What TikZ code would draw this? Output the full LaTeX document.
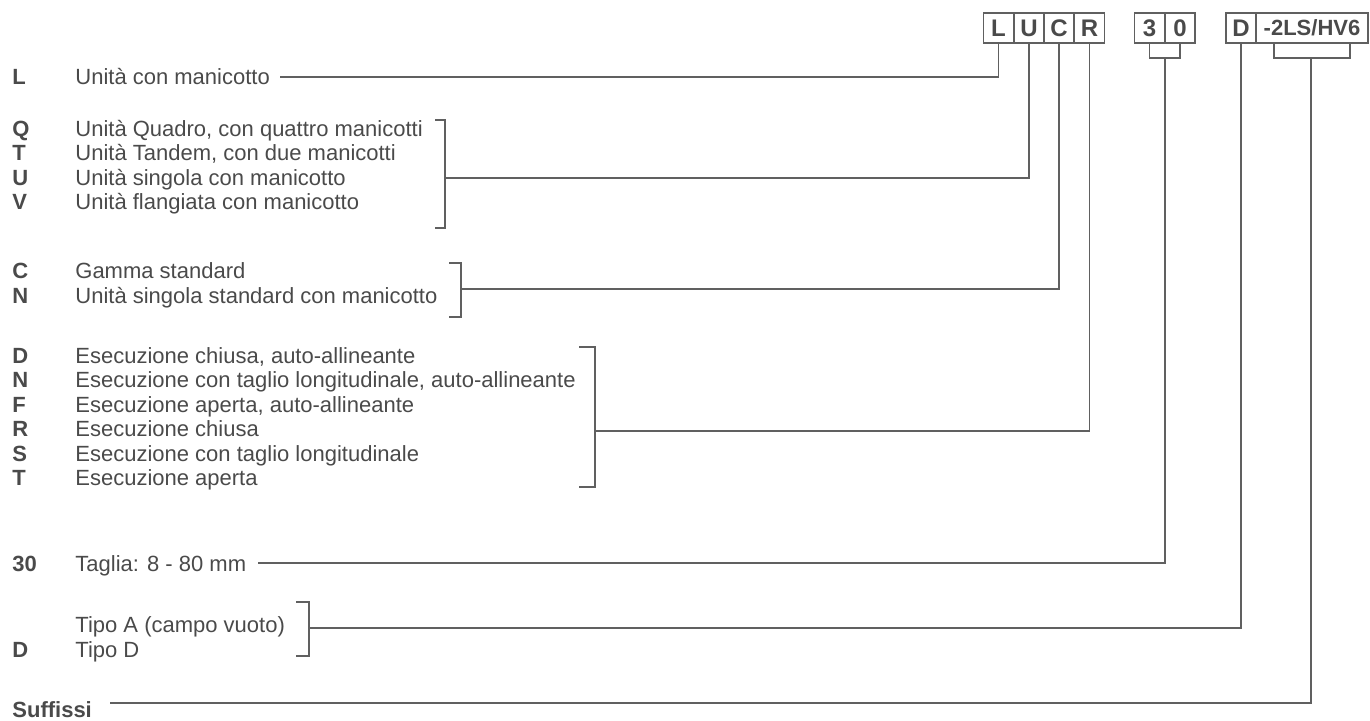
\documentclass[tikz,border=0pt]{standalone}
\usepackage{fontspec}
\setmainfont{Liberation Sans}
\definecolor{txt}{HTML}{4A4A4A}
\definecolor{ln}{HTML}{606060}
\newcommand{\descfont}{\fontsize{11}{13}\selectfont}
\newcommand{\boxfont}{\bfseries\fontsize{12}{14}\selectfont}
\newcommand{\sufboxfont}{\bfseries\fontsize{11}{13}\selectfont}
\begin{document}
\begin{tikzpicture}[x=0.5pt,y=-0.5pt,
  codebox/.style={draw=ln, line width=0.7pt, minimum width=15pt, minimum height=15pt, inner sep=0pt, font=\boxfont, text=txt},
  keyl/.style={anchor=base west, inner sep=0pt, font=\bfseries\descfont, text=txt},
  desc/.style={anchor=base west, inner sep=0pt, font=\descfont, text=txt},
  conn/.style={draw=ln, line width=0.65pt}]
\useasboundingbox (0,0) rectangle (1370,720);
% code boxes
\node[codebox] (bL) at (998.5,28) {L};
\node[codebox] (bU) at (1029,28) {U};
\node[codebox] (bC) at (1059,28) {C};
\node[codebox] (bR) at (1089.5,28) {R};
\node[codebox] (b3) at (1149.5,28) {3};
\node[codebox] (b0) at (1180,28) {0};
\node[codebox] (bD) at (1241,28) {D};
\node[codebox, minimum width=56pt, font=\sufboxfont] (bS) at (1312,28) {-2LS/HV6};
% keys and descriptions
\node[keyl] (kL) at (12,84) {L};   \node[desc] (tL) at (75,84) {Unità con manicotto};
\node[keyl] (kQ) at (12,136) {Q};  \node[desc] (tQ) at (75,136) {Unità Quadro, con quattro manicotti};
\node[keyl] (kT) at (12,160) {T};  \node[desc] (tT) at (75,160) {Unità Tandem, con due manicotti};
\node[keyl] (kU) at (12,185) {U};  \node[desc] (tU) at (75,185) {Unità singola con manicotto};
\node[keyl] (kV) at (12,209) {V};  \node[desc] (tV) at (75,209) {Unità flangiata con manicotto};
\node[keyl] (kC) at (12,278) {C};  \node[desc] (tC) at (75,278) {Gamma standard};
\node[keyl] (kN) at (12,303) {N};  \node[desc] (tN) at (75,303) {Unità singola standard con manicotto};
\node[keyl] (kD) at (12,363) {D};  \node[desc] (tD) at (75,363) {Esecuzione chiusa, auto-allineante};
\node[keyl] (kN2) at (12,387) {N}; \node[desc] (tN2) at (75,387) {Esecuzione con taglio longitudinale, auto-allineante};
\node[keyl] (kF) at (12,412) {F};  \node[desc] (tF) at (75,412) {Esecuzione aperta, auto-allineante};
\node[keyl] (kR) at (12,436) {R};  \node[desc] (tR) at (75,436) {Esecuzione chiusa};
\node[keyl] (kS) at (12,461) {S};  \node[desc] (tS) at (75,461) {Esecuzione con taglio longitudinale};
\node[keyl] (kT2) at (12,485) {T}; \node[desc] (tT2) at (75,485) {Esecuzione aperta};
\node[keyl] (k30) at (12,571) {30}; \node[desc] (t30) at (75,571) {Taglia: 8 - 80 mm};
\node[desc] (tA) at (75,632) {Tipo A (campo vuoto)};
\node[keyl] (kD2) at (12,657) {D}; \node[desc] (tDD) at (75,657) {Tipo D};
\node[keyl] (kSuf) at (12,717) {Suffissi};
% bracket coordinates
\coordinate (q1) at (435,120); \coordinate (q2) at (445,120); \coordinate (q3) at (445,228); \coordinate (q4) at (435,228);
\coordinate (qm) at (445,178);
\coordinate (c1) at (449,263); \coordinate (c2) at (461,263); \coordinate (c3) at (461,317); \coordinate (c4) at (449,317);
\coordinate (cm) at (461,289);
\coordinate (d1) at (579,347); \coordinate (d2) at (595,347); \coordinate (d3) at (595,487); \coordinate (d4) at (579,487);
\coordinate (dm) at (595,431);
\coordinate (a1) at (296,602); \coordinate (a2) at (309,602); \coordinate (a3) at (309,656); \coordinate (a4) at (296,656);
\coordinate (am) at (309,628);
\coordinate (lS) at (280,77);
\coordinate (l30) at (258,563);
\coordinate (lSuf) at (110,703);
% small brackets below boxes
\coordinate (s30) at (1165,58);
\coordinate (sSf) at (1311,58);
\draw[conn] (b3.south) -- (b3.south |- s30) -- (b0.south |- s30) -- (b0.south);
\draw[conn] ([xshift=-19pt]bS.south) -- ([xshift=-19pt]bS.south |- sSf) -- ([xshift=19pt]bS.south |- sSf) -- ([xshift=19pt]bS.south);
% connectors
\draw[conn] (lS) -| (bL.south);
\draw[conn] (q1) -- (q2) -- (q3) -- (q4);
\draw[conn] (qm) -| (bU.south);
\draw[conn] (c1) -- (c2) -- (c3) -- (c4);
\draw[conn] (cm) -| (bC.south);
\draw[conn] (d1) -- (d2) -- (d3) -- (d4);
\draw[conn] (dm) -| (bR.south);
\draw[conn] (l30) -| (s30);
\draw[conn] (a1) -- (a2) -- (a3) -- (a4);
\draw[conn] (am) -| (bD.south);
\draw[conn] (lSuf) -| (sSf);
\end{tikzpicture}
\end{document}
